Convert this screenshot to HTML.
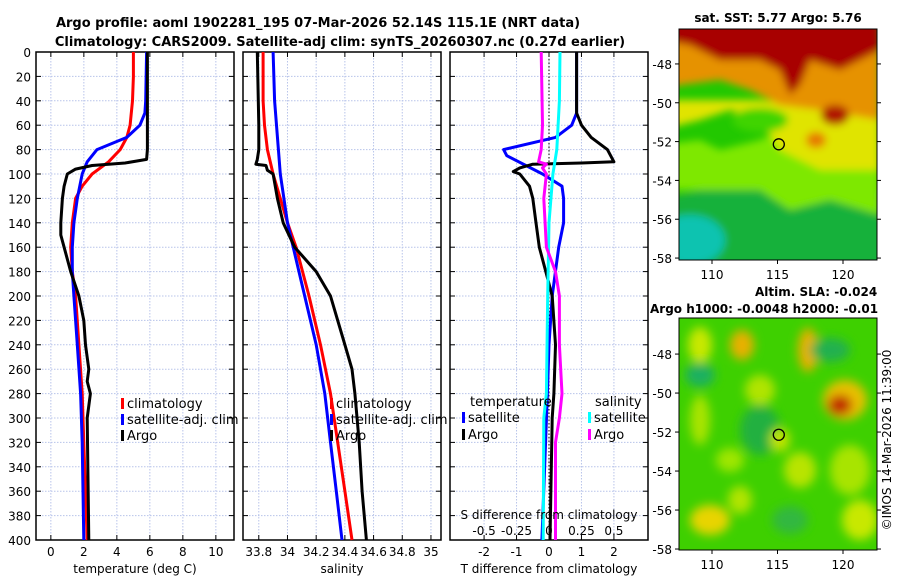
<!DOCTYPE html>
<html><head><meta charset="utf-8">
<style>
body{margin:0;background:#fff;}
svg{display:block;font-family:"DejaVu Sans","Liberation Sans",sans-serif;}
</style></head>
<body>
<svg id="fig" width="900" height="580" viewBox="0 0 900 580" xmlns="http://www.w3.org/2000/svg">
<defs>
<filter id="blur1" x="-20%" y="-20%" width="140%" height="140%"><feGaussianBlur stdDeviation="4"/></filter>
<filter id="blur2" x="-20%" y="-20%" width="140%" height="140%"><feGaussianBlur stdDeviation="5"/></filter>
<clipPath id="clipTop"><rect x="679" y="29" width="198" height="231"/></clipPath>
<clipPath id="clipBot"><rect x="679" y="318" width="198" height="232"/></clipPath>
</defs>
<text x="318" y="27" text-anchor="middle" font-size="13" font-weight="bold">Argo profile: aoml 1902281_195 07-Mar-2026 52.14S 115.1E (NRT data)</text>
<text x="340" y="46" text-anchor="middle" font-size="13" font-weight="bold">Climatology: CARS2009. Satellite-adj clim: synTS_20260307.nc (0.27d earlier)</text>
<g id="panels"></g>
<g id="maps"></g>
</svg>
<script>
// ---------- data ----------
const depthTicks = [0,20,40,60,80,100,120,140,160,180,200,220,240,260,280,300,320,340,360,380,400];
const tempTicks = [0,2,4,6,8,10];
const salTicks = [33.8,34,34.2,34.4,34.6,34.8,35];
const salTickLabels = ["33.8","34","34.2","34.4","34.6","34.8","35"];
const tdiffTicks = [-2,-1,0,1,2];
const sdiffTicks = [-0.5,-0.25,0,0.25,0.5];

const tClimDepth = [0,20,40,60,70,80,90,100,110,120,140,160,180,200,240,280,320,360,400];
const tClimVal   = [5.0,5.0,4.95,4.8,4.6,4.2,3.5,2.5,1.9,1.5,1.3,1.2,1.3,1.5,1.7,1.9,2.0,2.1,2.2];
const tSatDepth = [0,40,50,60,70,80,90,100,120,140,160,180,200,240,280,320,360,400];
const tSatVal   = [5.8,5.75,5.7,5.4,4.6,2.8,2.2,1.9,1.6,1.4,1.3,1.3,1.4,1.6,1.8,1.9,1.95,2.0];
const tArgoDepth = [0,80,88,91,93,96,100,105,110,120,140,150,160,180,200,220,240,260,270,280,290,300,400];
const tArgoVal   = [5.85,5.85,5.8,4.5,2.5,1.5,1.0,0.9,0.8,0.7,0.6,0.6,0.8,1.2,1.7,2.0,2.1,2.3,2.2,2.4,2.3,2.2,2.3];

const sClimDepth = [0,40,60,80,100,120,140,160,200,240,280,320,360,400];
const sClimVal   = [33.83,33.83,33.84,33.86,33.9,33.95,34.0,34.06,34.15,34.23,34.3,34.35,34.4,34.45];
const sSatDepth = [0,40,100,140,160,200,240,280,320,360,400];
const sSatVal   = [33.9,33.91,33.95,34.0,34.04,34.12,34.2,34.26,34.3,34.34,34.38];
const sArgoDepth = [0,60,80,88,92,93,97,100,120,140,160,180,200,220,240,260,280,320,360,400];
const sArgoVal   = [33.79,33.8,33.8,33.79,33.78,33.85,33.86,33.9,33.93,33.97,34.05,34.2,34.3,34.35,34.4,34.45,34.47,34.5,34.52,34.55];

const dtSatDepth = [0,50,60,70,80,85,100,110,120,140,160,200,240,280,400];
const dtSatVal   = [0.85,0.85,0.7,0.2,-1.4,-1.3,-0.2,0.4,0.45,0.45,0.3,0.1,0.0,-0.05,-0.22];
const dtArgoDepth = [0,50,60,70,80,90,91,92,95,98,100,110,120,140,160,180,200,240,280,300,400];
const dtArgoVal   = [0.85,0.85,1.0,1.3,1.8,2.0,1.0,-0.5,-0.9,-1.1,-0.9,-0.6,-0.5,-0.4,-0.3,-0.1,0.1,0.2,0.15,0.1,0.03];
const dsSatDepth = [0,40,80,100,140,200,280,300,400];
const dsSatVal   = [0.085,0.08,0.06,0.03,0.0,-0.01,-0.02,-0.04,-0.045];
const dsArgoDepth = [0,60,80,90,92,95,100,120,160,180,200,240,280,300,320,400];
const dsArgoVal   = [-0.06,-0.05,-0.06,-0.08,-0.02,-0.05,-0.02,-0.04,-0.02,0.05,0.08,0.08,0.1,0.08,0.05,0.05];

const latTicks = [-48,-50,-52,-54,-56,-58];
const lonTicks = [110,115,120];
const argoLon = 115.1, argoLat = -52.14;

// ---------- helpers ----------
const NS = "http://www.w3.org/2000/svg";
function mk(tag, attrs, parent){const e=document.createElementNS(NS,tag);for(const k in attrs)e.setAttribute(k,attrs[k]);parent.appendChild(e);return e;}
const top0=52, bot0=540;
const FS = 12;
const yD = d => top0 + (d/400)*(bot0-top0);
const panels = document.getElementById('panels');

function drawPanel(x0,x1,xmin,xmax,ticks,name){
  const g = mk('g',{},panels);
  
  
  const sx = v => x0 + (v-xmin)/(xmax-xmin)*(x1-x0);
  for(const d of depthTicks){ if(d>0&&d<400){const l=mk('line',{x1:x0,x2:x1,y1:yD(d),y2:yD(d),stroke:'#b8c4ea','stroke-width':1,'stroke-dasharray':'1.5,1.5'},g);
     }
    mk('line',{x1:x0,x2:x0+5,y1:yD(d),y2:yD(d),stroke:'#000'},g); mk('line',{x1:x1-5,x2:x1,y1:yD(d),y2:yD(d),stroke:'#000'},g);}
  for(const t of ticks){const X=sx(t);const l=mk('line',{x1:X,x2:X,y1:top0,y2:bot0,stroke:'#b8c4ea','stroke-width':1,'stroke-dasharray':'1.5,1.5'},g);
     
    mk('line',{x1:X,x2:X,y1:bot0-5,y2:bot0,stroke:'#000'},g);mk('line',{x1:X,x2:X,y1:top0,y2:top0+5,stroke:'#000'},g);}
  const fr=mk('rect',{x:x0,y:top0,width:x1-x0,height:bot0-top0,fill:'none',stroke:'#000','stroke-width':1.5},g);
   
  return {g,sx};
}
function line(p,sx,depths,vals,color,name){
  const pts = depths.map((d,i)=>sx(vals[i]).toFixed(1)+','+yD(d).toFixed(1)).join(' ');
  const e = mk('polyline',{points:pts,fill:'none',stroke:color,'stroke-width':3,'stroke-linejoin':'round'},p.g);
  
  
}
function txt(parent,x,y,s,opts){const e=mk('text',Object.assign({x:x,y:y,'font-size':FS},opts||{}),parent);e.textContent=s;return e;}

// Panel 1
const p1 = drawPanel(36,234,-0.9,11.1,tempTicks,'temperature-panel');
line(p1,p1.sx,tClimDepth,tClimVal,'#ff0000','temp-climatology-line');
line(p1,p1.sx,tSatDepth,tSatVal,'#0000ff','temp-satellite-line');
line(p1,p1.sx,tArgoDepth,tArgoVal,'#000000','temp-argo-line');
for(const d of depthTicks){const t=txt(panels,31,yD(d)+5,String(d),{'text-anchor':'end'});
   }
for(const v of tempTicks){const t=txt(panels,p1.sx(v),556,String(v),{'text-anchor':'middle'});
   }
let t1=txt(panels,135,573,'temperature (deg C)',{'text-anchor':'middle'});
 

// Panel 2
const p2 = drawPanel(243,441,33.69,35.07,salTicks,'salinity-panel');
line(p2,p2.sx,sClimDepth,sClimVal,'#ff0000','sal-climatology-line');
line(p2,p2.sx,sSatDepth,sSatVal,'#0000ff','sal-satellite-line');
line(p2,p2.sx,sArgoDepth,sArgoVal,'#000000','sal-argo-line');
salTicks.forEach((v,i)=>{const t=txt(panels,p2.sx(v),556,salTickLabels[i],{'text-anchor':'middle'});
   });
let t2=txt(panels,342,573,'salinity',{'text-anchor':'middle'});
 

// Panel 3
const p3 = drawPanel(450,648,-3.05,3.05,tdiffTicks,'difference-panel');
const sxS = v => p3.sx(v*4);
mk('line',{x1:p3.sx(0),x2:p3.sx(0),y1:top0,y2:bot0,stroke:'#000','stroke-width':1,'stroke-dasharray':'1.5,2'},p3.g);
line(p3,p3.sx,dtSatDepth,dtSatVal,'#0000ff','tdiff-satellite-line');
line(p3,p3.sx,dtArgoDepth,dtArgoVal,'#000000','tdiff-argo-line');
line(p3,sxS,dsSatDepth,dsSatVal,'#00ffff','sdiff-satellite-line');
line(p3,sxS,dsArgoDepth,dsArgoVal,'#ff00ff','sdiff-argo-line');
for(const v of tdiffTicks){const t=txt(panels,p3.sx(v),556,String(v),{'text-anchor':'middle'});
   }
for(const v of sdiffTicks){const t=txt(panels,sxS(v),535,String(v),{'text-anchor':'middle'});
   }
let t3=txt(panels,549,573,'T difference from climatology',{'text-anchor':'middle'});
 
let t4=txt(panels,549,519,'S difference from climatology',{'text-anchor':'middle'});
 

// Legends
function legendItem(x,y,color,label){
  const g=mk('g',{},panels);
  
  
  mk('rect',{x:x,y:y-10,width:3,height:11,fill:color},g);
  txt(g,x+6,y,label,{'font-size':13});
}
legendItem(121,408,'#ff0000','climatology');
legendItem(121,424,'#0000ff','satellite-adj. clim');
legendItem(121,440,'#000000','Argo');
legendItem(330,408,'#ff0000','climatology');
legendItem(330,424,'#0000ff','satellite-adj. clim');
legendItem(330,440,'#000000','Argo');
let lt=txt(panels,470,406,'temperature',{'font-size':13});  
legendItem(462,422,'#0000ff','satellite');
legendItem(462,439,'#000000','Argo');
let ls=txt(panels,595,406,'salinity',{'font-size':13});  
legendItem(588,422,'#00ffff','satellite');
legendItem(588,439,'#ff00ff','Argo');

// ---------- maps ----------
const maps = document.getElementById('maps');
const mx0=679, mx1=877;
const lonX = lon => 712 + (lon-110)*13.1;
function drawMap(y0,y1,latTop,latBot,name,fillFn,clip){
  const g=mk('g',{},maps);
  
  
  const latY = lat => y0 + (latTop-lat)/(latTop-latBot)*(y1-y0);
  const cg=mk('g',{'clip-path':'url(#'+clip+')'},g);
  fillFn(cg);
  mk('rect',{x:mx0,y:y0,width:mx1-mx0,height:y1-y0,fill:'none',stroke:'#000','stroke-width':1},g);
  for(const l of latTicks){const Y=latY(l);mk('line',{x1:mx0-4,x2:mx0,y1:Y,y2:Y,stroke:'#000'},g);mk('line',{x1:mx1,x2:mx1+4,y1:Y,y2:Y,stroke:'#000'},g);
    const t=txt(g,mx0-7,Y+5,String(l),{'text-anchor':'end'});  }
  for(const l of lonTicks){const X=lonX(l);mk('line',{x1:X,x2:X,y1:y1,y2:y1+4,stroke:'#000'},g);
    const t=txt(g,X,y1+19,String(l),{'text-anchor':'middle'});  }
  const c=mk('circle',{cx:lonX(argoLon),cy:latY(argoLat),r:5.5,fill:'none',stroke:'#000','stroke-width':1.3},g);
   
  return g;
}
function sstFill(g){
  mk('rect',{x:679,y:29,width:198,height:231,fill:'#22c800'},g);
  const b=mk('g',{filter:'url(#blur1)'},g);
  mk('path',{d:'M660 200 L720 185 L760 180 L790 200 L830 190 L880 185 L900 280 L660 280Z',fill:'#13b13a'},b);
  mk('ellipse',{cx:690,cy:240,rx:35,ry:25,fill:'#10c3b0'},b);
  mk('path',{d:'M660 145 L700 140 L720 150 L760 140 L800 120 L880 110 L880 215 L830 200 L790 210 L760 190 L720 190 L660 190Z',fill:'#7ee800'},b);
  mk('path',{d:'M660 100 L760 100 L840 110 L880 100 L880 170 L820 170 L780 150 L760 120 L730 110 L700 120 L660 130Z',fill:'#e0e400'},b);
  mk('path',{d:'M660 20 L880 20 L880 120 L820 110 L780 105 L750 90 L720 80 L680 85 L660 90Z',fill:'#e69200'},b);
  mk('path',{d:'M660 0 L880 0 L880 50 L840 70 L810 60 L800 85 L790 95 L780 70 L760 60 L720 60 L690 45 L660 40Z',fill:'#a80000'},b);
  mk('ellipse',{cx:835,cy:115,rx:14,ry:10,fill:'#b01800'},b);
  mk('ellipse',{cx:816,cy:140,rx:10,ry:8,fill:'#e67a00'},b);
  mk('ellipse',{cx:760,cy:120,rx:28,ry:12,fill:'#3fd400'},b);
}
function slaFill(g){
  mk('rect',{x:679,y:318,width:198,height:232,fill:'#3ed000'},g);
  const b=mk('g',{filter:'url(#blur2)'},g);
  const blobs=[[700,345,12,18,'#c8e800'],[742,345,12,15,'#e8b000'],[808,350,10,22,'#e8b000'],[760,390,15,15,'#b0e400'],
    [845,400,22,20,'#e8c000'],[840,405,12,10,'#c02000'],[700,420,10,25,'#a8e400'],[730,460,14,12,'#9ee600'],
    [800,470,16,18,'#b8e400'],[710,520,20,15,'#e8d400'],[850,470,20,25,'#a8e400'],[740,500,12,14,'#b0e400'],
    [760,430,20,25,'#22b040'],[700,375,15,12,'#1ab060'],[830,350,20,12,'#20b050'],[790,520,18,14,'#30b840'],
    [860,520,18,20,'#c8e800'],[780,440,10,12,'#c0e400']];
  for(const bl of blobs) mk('ellipse',{cx:bl[0],cy:bl[1],rx:bl[2],ry:bl[3],fill:bl[4]},b);
}
drawMap(29,260,-46.2,-58.1,'sst-map',sstFill,'clipTop');
drawMap(318,550,-46.15,-58.05,'sla-map',slaFill,'clipBot');
let m1=txt(maps,778,22,'sat. SST: 5.77 Argo: 5.76',{'text-anchor':'middle','font-weight':'bold'});
 
let m2=txt(maps,755,296,'Altim. SLA: -0.024',{'font-weight':'bold'});
 
let m3=txt(maps,650,313,'Argo h1000: -0.0048 h2000: -0.01',{'font-weight':'bold'});
 
let cp=txt(maps,0,0,'©IMOS 14-Mar-2026 11:39:00',{'text-anchor':'middle',transform:'translate(891,440) rotate(-90)'});
 
</script>
</body></html>
